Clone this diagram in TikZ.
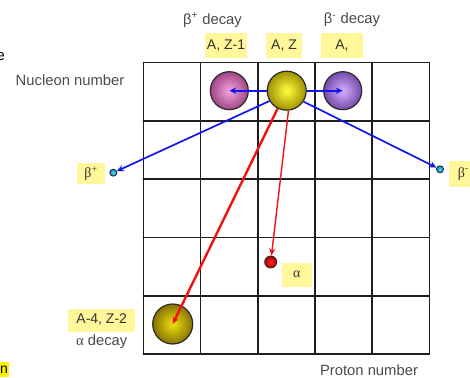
\documentclass[tikz,border=0pt]{standalone}
\usepackage{fontspec}
\setmainfont{Liberation Sans}
\newfontfamily\serifgr{Liberation Serif}
\usetikzlibrary{arrows.meta}
\definecolor{lblyellow}{HTML}{FFF79A}
\definecolor{txtgrey}{HTML}{4A4A4A}
\definecolor{gridcol}{HTML}{1E1E1E}
\definecolor{arrblue}{HTML}{1414F0}
\definecolor{arrred}{HTML}{F21010}
\definecolor{ballline}{HTML}{2A2A2A}
\tikzset{
  gridline/.style={draw=gridcol, line width=1.6pt, line cap=round},
  lbl/.style={fill=lblyellow, text=black!80, inner sep=0pt, align=center},
  caption/.style={text=txtgrey, inner sep=0pt, font=\fontsize{14.8}{17}\selectfont},
  ball/.style={circle, draw=ballline, line width=1.2pt, inner sep=0pt},
  smallball/.style={circle, draw=ballline, line width=0.9pt, inner sep=0pt},
  bluearr/.style={draw=arrblue, line width=1.7pt, -{Stealth[length=7pt,width=6.5pt]}},
  redarr/.style={draw=arrred, -{Stealth[length=7pt,width=6pt]}}
}
\begin{document}
\begin{tikzpicture}[x=1pt,y=1pt,font=\fontsize{14}{16}\selectfont]
\useasboundingbox (0,0) rectangle (470,377);
% grid
\foreach \i in {0,...,5}{
  \draw[gridline] ({143.3+57.2*\i},23) -- ({143.3+57.2*\i},314.3);
  \draw[gridline] (143.3,{23+58.26*\i}) -- (429.3,{23+58.26*\i});
}
% balls
\node[ball, minimum size=39pt, inner color=yellow!75!white, outer color={rgb,255:red,160;green,145;blue,0}] (az) at (286.7,286.3) {};
\node[ball, minimum size=38pt, inner color={rgb,255:red,245;green,165;blue,220}, outer color={rgb,255:red,160;green,70;blue,135}] (pink) at (229.3,286.3) {};
\node[ball, minimum size=38pt, inner color={rgb,255:red,215;green,175;blue,255}, outer color={rgb,255:red,115;green,75;blue,170}] (purple) at (342.7,286.3) {};
\node[ball, minimum size=40pt, inner color={rgb,255:red,240;green,225;blue,20}, outer color={rgb,255:red,135;green,115;blue,0}] (daughter) at (172.7,53) {};
\node[smallball, minimum size=12pt, inner color={rgb,255:red,255;green,40;blue,40}, outer color={rgb,255:red,170;green,0;blue,0}] (alphaball) at (270.7,115) {};
\node[smallball, minimum size=7pt, inner color={rgb,255:red,80;green,220;blue,250}, outer color={rgb,255:red,0;green,140;blue,190}] (posi) at (113.3,204.3) {};
\node[smallball, minimum size=7pt, inner color={rgb,255:red,80;green,220;blue,250}, outer color={rgb,255:red,0;green,140;blue,190}] (elec) at (440,207.7) {};
% labels
\node[caption] (bplus) at (212.5,357) {β\textsuperscript{+} decay};
\node[caption] (bminus) at (352,357) {β\textsuperscript{-} decay};
\node[lbl, minimum width=42pt, minimum height=25pt] (lz1) at (226,331.5) {A, Z-1};
\node[lbl, minimum width=36pt, minimum height=25pt] (lz) at (284,331.5) {A, Z};
\node[lbl, minimum width=42pt, minimum height=25pt] (lzp) at (342,331.5) {A,};
\node[caption] (nucl) at (70,297) {Nucleon number};
\node[caption, anchor=east, text=black] (ecut) at (5,320) {e};
\node[lbl, minimum width=28pt, minimum height=21pt] (lposi) at (91,203.5) {\serifgr β\textsuperscript{+}};
\node[lbl, minimum width=28pt, minimum height=26pt] (lelec) at (463.3,203.3) {\serifgr β\textsuperscript{-}};
\node[lbl, minimum width=67pt, minimum height=23pt] (ldau) at (101.7,57) {A-4, Z-2};
\node[caption] (adecay) at (101.7,35.3) {{\serifgr α} decay};
\node[lbl, minimum width=30pt, minimum height=24pt] (lalpha) at (296.7,102.3) {\serifgr α};
\node[caption] (proton) at (369,7) {Proton number};
\node[fill=yellow, anchor=east, inner sep=1pt, minimum height=15pt, text=black] (ncut) at (9,7.5) {n};
% arrows
\draw[bluearr] (az.west) -- (pink.center);
\draw[bluearr] (az.east) -- (purple.center);
\draw[bluearr] (az.-149) -- (posi);
\draw[bluearr] (az.-33) -- (elec);
\draw[redarr, line width=2.4pt] (az.-117) -- (daughter.center);
\draw[redarr, line width=1.4pt] (az.-85) -- (alphaball);
\end{tikzpicture}
\end{document}
